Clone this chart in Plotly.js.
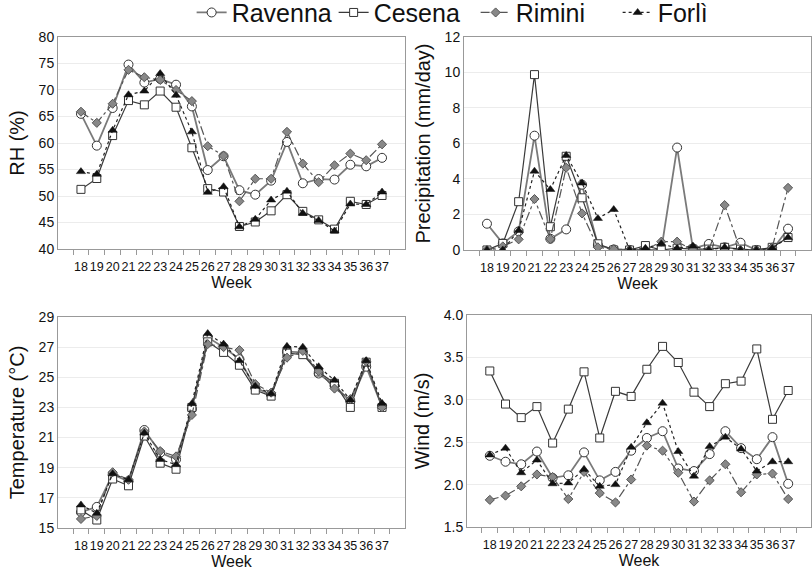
<!DOCTYPE html>
<html>
<head>
<meta charset="utf-8">
<script src="https://cdn.plot.ly/plotly-3.0.1.min.js"></script>
<style>html,body{margin:0;padding:0;background:#fff;}#chart{width:812px;height:578px;}</style>
</head>
<body>
<div id="chart"></div>
<script>
const weeks = ['18','19','20','21','22','23','24','25','26','27','28','29','30','31','32','33','34','35','36','37'];
const stations = ['Ravenna','Cesena','Rimini','Forlì'];

const ravRH = [65.5,59.5,66.6,74.8,71.4,72.1,71.0,66.9,54.9,57.5,51.1,50.25,52.9,60.2,52.4,53.2,53.1,55.9,55.6,57.2];
const cesRH = [51.25,53.3,61.4,68.0,67.2,69.8,66.75,59.1,51.4,50.75,44.25,45.1,47.2,50.25,47.1,45.5,43.75,49.0,48.4,50.1];
const rimRH = [65.9,63.8,67.4,73.8,72.4,71.9,70.0,67.9,59.4,57.6,49.0,53.25,53.25,62.1,56.1,52.6,55.8,58.0,56.75,59.75];
const forRH = [54.6,54.1,62.4,69.1,69.8,73.1,69.0,62.1,50.7,51.75,44.2,45.6,49.25,50.9,46.75,45.4,43.4,48.5,48.4,50.75];

const ravP = [1.48,0.37,1.05,6.44,0.63,1.16,3.68,0.28,0.03,0,0,0,5.77,0.08,0.34,0.15,0.41,0,0,1.2];
const cesP = [0,0.37,2.72,9.88,1.31,5.28,2.94,0.35,0,0,0.25,0,0.1,0.05,0.05,0.15,0.05,0,0.15,0.7];
const rimP = [0,0.2,0.6,2.87,0.62,4.64,2.06,0.15,0.04,0,0,0.47,0.47,0,0,2.53,0,0,0.15,3.5];
const forP = [0,0,1.1,4.44,3.41,5.33,3.77,1.78,2.28,0,0.1,0.35,0.1,0.22,0,0.15,0,0,0.1,0.7];

const ravT = [16.05,16.4,18.55,18.1,21.5,20.0,19.55,22.9,27.65,27.0,26.2,24.3,23.85,26.7,26.65,25.25,24.45,23.4,25.7,23.05];
const cesT = [16.2,15.53,18.25,17.8,21.1,19.3,18.9,23.0,27.35,26.65,25.8,24.15,23.75,26.6,26.5,25.35,24.6,23.0,26.0,23.0];
const rimT = [15.6,15.8,18.7,18.2,21.4,20.1,19.75,22.5,27.2,27.0,26.8,24.55,23.98,26.3,26.75,25.4,24.25,23.55,26.05,23.0];
const forT = [16.53,15.98,18.6,18.2,21.3,19.55,19.2,23.25,27.9,27.2,26.1,24.4,23.9,27.05,27.0,25.7,24.8,23.5,26.1,23.27];

const ravW = [2.34,2.27,2.24,2.39,2.08,2.11,2.38,2.05,2.15,2.40,2.55,2.63,2.19,2.16,2.36,2.63,2.43,2.30,2.56,2.01];
const cesW = [3.34,2.95,2.79,2.92,2.49,2.89,3.33,2.55,3.10,3.04,3.36,3.63,3.44,3.09,2.92,3.19,3.22,3.60,2.77,3.11];
const rimW = [1.82,1.87,1.98,2.12,2.09,1.83,2.15,1.90,1.79,2.06,2.46,2.40,2.14,1.80,2.05,2.24,1.91,2.12,2.13,1.83];
const forW = [2.35,2.43,2.14,2.29,2.01,2.02,2.18,1.98,2.0,2.44,2.73,2.96,2.39,2.10,2.45,2.56,2.42,2.16,2.27,2.27];

const styles = [
  {line:{color:'#7a7a7a', width:1.8, dash:'solid'}, marker:{symbol:'circle', size:9, color:'#ffffff', line:{color:'#333', width:1}}},
  {line:{color:'#3a3a3a', width:1.2, dash:'solid'}, marker:{symbol:'square', size:8, color:'#ffffff', line:{color:'#333', width:1}}},
  {line:{color:'#555555', width:1.2, dash:'dashdot'}, marker:{symbol:'diamond', size:7, color:'#888888', line:{color:'#555', width:1}}},
  {line:{color:'#222222', width:1.2, dash:'dot'}, marker:{symbol:'triangle-up', size:8, color:'#111111', line:{color:'#111', width:0.5}}}
];

const panels = [
  {data:[ravRH,cesRH,rimRH,forRH], xa:'x', ya:'y'},
  {data:[ravP,cesP,rimP,forP], xa:'x2', ya:'y2'},
  {data:[ravT,cesT,rimT,forT], xa:'x3', ya:'y3'},
  {data:[ravW,cesW,rimW,forW], xa:'x4', ya:'y4'}
];

const traces = [];
panels.forEach((p, pi) => {
  p.data.forEach((vals, si) => {
    traces.push({
      type:'scatter', mode:'lines+markers', x:weeks, y:vals,
      xaxis:p.xa, yaxis:p.ya, name:stations[si], legendgroup:stations[si],
      showlegend: pi === 0,
      line:styles[si].line, marker:styles[si].marker
    });
  });
});

const font = {family:'Liberation Sans, Arial, sans-serif', color:'#111'};
function xax(domain, anchor){
  return {domain:domain, anchor:anchor, type:'category', tickmode:'linear', dtick:1, tickangle:0,
    tickson:'boundaries', ticks:'outside', ticklen:5, ticklabelstandoff:6,
    tickcolor:'#999', showline:true, linecolor:'#999', linewidth:1, mirror:true, showgrid:false,
    tickfont:{size:12.5, family:font.family, color:'#111'},
    title:{text:'Week', font:{size:16, family:font.family, color:'#111'}, standoff:3}, fixedrange:true};
}
function yax(domain, anchor, range, dtick, title, fmt){
  return {domain:domain, anchor:anchor, range:range, dtick:dtick, tick0:range[0], tickformat:fmt||'',
    showline:true, linecolor:'#999', linewidth:1, mirror:true, showgrid:true, gridcolor:'#ececec', zeroline:false,
    ticks:'', tickfont:{size:14, family:font.family, color:'#111'},
    title:{text:title, font:{size:20, family:font.family, color:'#111'}, standoff:8}, fixedrange:true};
}

const layout = {
  width:812, height:578, margin:{l:0, r:0, t:0, b:0, autoexpand:false}, paper_bgcolor:'#fff', plot_bgcolor:'#fff',
  font:font,
  showlegend:true,
  legend:{orientation:'h', x:0.236, xanchor:'left', y:0.978, yanchor:'middle', itemwidth:30,
    entrywidth:97, entrywidthmode:'pixels',
    font:{size:25, family:font.family, color:'#111'}, bgcolor:'rgba(0,0,0,0)', tracegroupgap:0},
  xaxis: xax([0.0714,0.4988],'y'),
  yaxis: yax([0.5692,0.936],'x',[40,80],5,'RH (%)'),
  xaxis2: xax([0.5714,0.9988],'y2'),
  yaxis2: yax([0.5675,0.936],'x2',[0,12],2,'Precipitation (mm/day)'),
  xaxis3: xax([0.0714,0.4988],'y3'),
  yaxis3: yax([0.0865,0.4516],'x3',[15,29],2,'Temperature (°C)'),
  xaxis4: xax([0.5751,0.9988],'y4'),
  yaxis4: yax([0.0882,0.455],'x4',[1.5,4.0],0.5,'Wind (m/s)','.1f')
};

Plotly.newPlot('chart', traces, layout, {staticPlot:true, displayModeBar:false});
</script>
</body>
</html>
